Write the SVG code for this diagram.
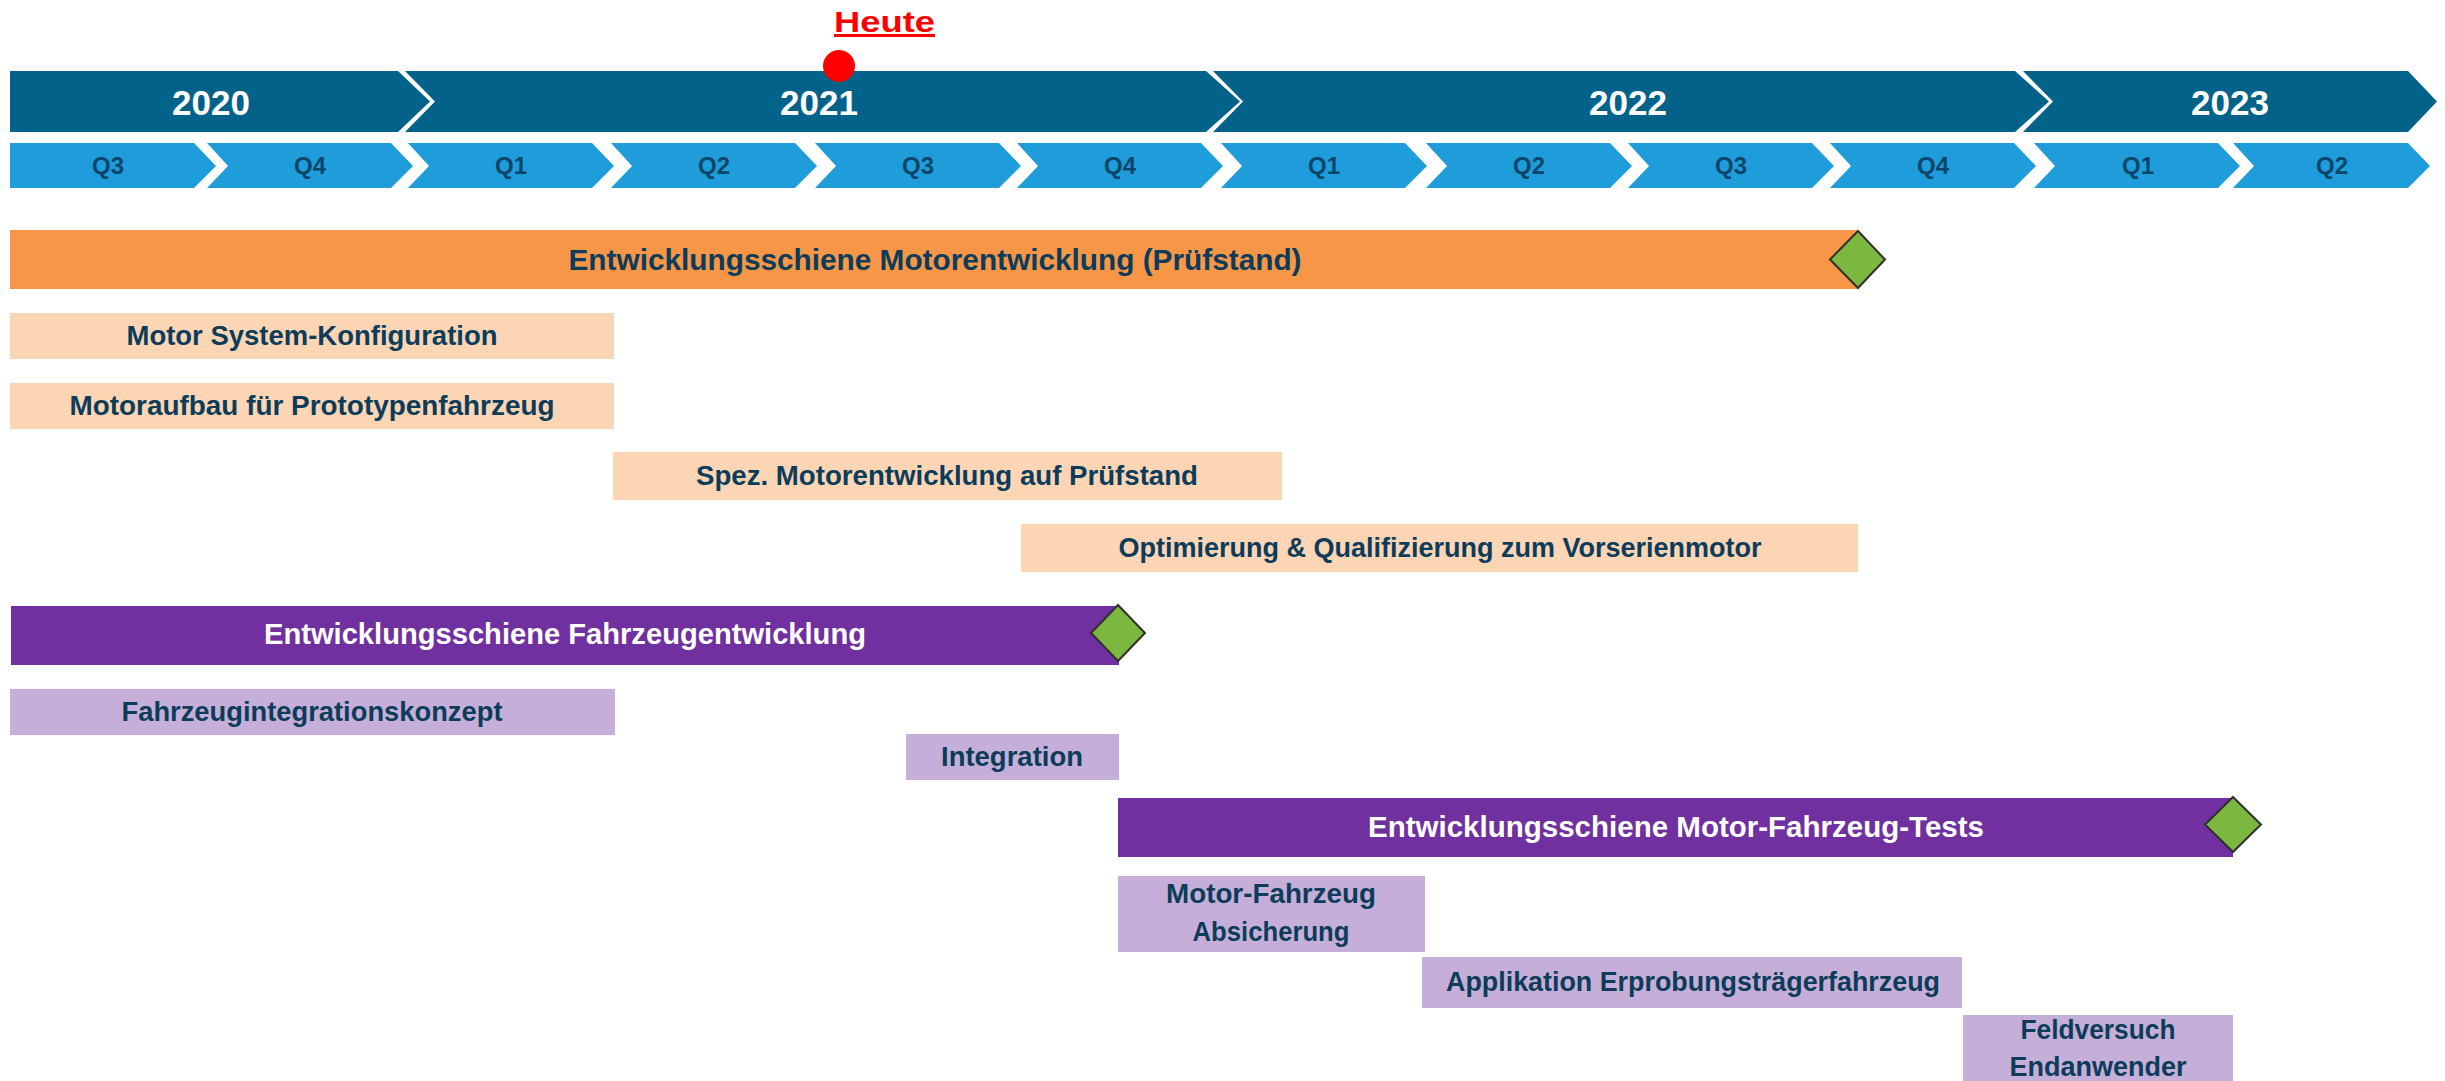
<svg xmlns="http://www.w3.org/2000/svg" width="2445" height="1081" viewBox="0 0 2445 1081">
<style>
text{font-family:"Liberation Sans",Arial,sans-serif;font-weight:bold;text-anchor:middle}
.yr{fill:#02628a}
.q{fill:#1f9ddb}
.yt{fill:#ffffff;font-size:35px}
.qt{fill:#0a466a;font-size:24px}
.dk{fill:#0c3c5a}
.hd{font-size:30px}
.st{font-size:27px}
.org{fill:#f79646}
.lorg{fill:#fcd5b5}
.pur{fill:#7030a0}
.lpur{fill:#c5afd9}
.ms{fill:#7cb73f;stroke:#2f2f2f;stroke-width:2}
.wt{fill:#ffffff}
</style>
<rect width="2445" height="1081" fill="#ffffff"/>
<g id="timeline-years">
<polygon class="yr" points="10,71 398,71 430,101.5 398,132 10,132"/>
<polygon class="yr" points="405,71 1206,71 1240,101.5 1206,132 405,132 435,101.5"/>
<polygon class="yr" points="1213,71 2015,71 2049,101.5 2015,132 1213,132 1243,101.5"/>
<polygon class="yr" points="2023,71 2408,71 2437,101.5 2408,132 2023,132 2053,101.5"/>
<text class="yt" x="211" y="115">2020</text>
<text class="yt" x="819" y="115">2021</text>
<text class="yt" x="1628" y="115">2022</text>
<text class="yt" x="2230" y="115">2023</text>
</g>
<g id="timeline-quarters">
<polygon class="q" points="10,143 194,143 216,166 194,188 10,188"/>
<polygon class="q" points="207,143 391,143 413,166 391,188 207,188 228,166"/>
<polygon class="q" points="408,143 592,143 614,166 592,188 408,188 429,166"/>
<polygon class="q" points="611,143 795,143 817,166 795,188 611,188 632,166"/>
<polygon class="q" points="815,143 999,143 1021,166 999,188 815,188 836,166"/>
<polygon class="q" points="1017,143 1201,143 1223,166 1201,188 1017,188 1038,166"/>
<polygon class="q" points="1221,143 1405,143 1427,166 1405,188 1221,188 1242,166"/>
<polygon class="q" points="1426,143 1610,143 1632,166 1610,188 1426,188 1447,166"/>
<polygon class="q" points="1628,143 1812,143 1834,166 1812,188 1628,188 1649,166"/>
<polygon class="q" points="1830,143 2014,143 2036,166 2014,188 1830,188 1851,166"/>
<polygon class="q" points="2034,143 2218,143 2240,166 2218,188 2034,188 2055,166"/>
<polygon class="q" points="2233,143 2408,143 2430,166 2408,188 2233,188 2254,166"/>
<text class="qt" x="108" y="174">Q3</text>
<text class="qt" x="310" y="174">Q4</text>
<text class="qt" x="511" y="174">Q1</text>
<text class="qt" x="714" y="174">Q2</text>
<text class="qt" x="918" y="174">Q3</text>
<text class="qt" x="1120" y="174">Q4</text>
<text class="qt" x="1324" y="174">Q1</text>
<text class="qt" x="1529" y="174">Q2</text>
<text class="qt" x="1731" y="174">Q3</text>
<text class="qt" x="1933" y="174">Q4</text>
<text class="qt" x="2138" y="174">Q1</text>
<text class="qt" x="2332" y="174">Q2</text>
</g>
<g id="heute">
<circle cx="839" cy="66" r="16" fill="#ff0000"/>
<text x="884.5" y="32" font-size="30" fill="#ff0000" text-decoration="underline" textLength="101" lengthAdjust="spacingAndGlyphs">Heute</text>
</g>
<g id="rail-motor">
<rect class="org" x="10" y="230" width="1848" height="59"/>
<text class="dk hd" x="935" y="270" textLength="733" lengthAdjust="spacingAndGlyphs">Entwicklungsschiene Motorentwicklung (Prüfstand)</text>
</g>
<g id="milestone-motor">
<polygon class="ms" points="1858,231 1885,259.5 1858,288 1830,259.5"/>
</g>
<g id="task-motor-system">
<rect class="lorg" x="10" y="313" width="604" height="46"/>
<text class="dk st" x="312" y="345" textLength="371" lengthAdjust="spacingAndGlyphs">Motor System-Konfiguration</text>
</g>
<g id="task-motoraufbau">
<rect class="lorg" x="10" y="383" width="604" height="46"/>
<text class="dk st" x="312" y="415" textLength="485" lengthAdjust="spacingAndGlyphs">Motoraufbau für Prototypenfahrzeug</text>
</g>
<g id="task-spez">
<rect class="lorg" x="613" y="452" width="669" height="48"/>
<text class="dk st" x="947" y="485" textLength="502" lengthAdjust="spacingAndGlyphs">Spez. Motorentwicklung auf Prüfstand</text>
</g>
<g id="task-optimierung">
<rect class="lorg" x="1021" y="524" width="837" height="48"/>
<text class="dk st" x="1440" y="557" textLength="643" lengthAdjust="spacingAndGlyphs">Optimierung &amp; Qualifizierung zum Vorserienmotor</text>
</g>
<g id="rail-fahrzeug">
<rect class="pur" x="11" y="606" width="1108" height="59"/>
<text class="wt hd" x="565" y="644" textLength="602" lengthAdjust="spacingAndGlyphs">Entwicklungsschiene Fahrzeugentwicklung</text>
</g>
<g id="milestone-fahrzeug">
<polygon class="ms" points="1118,605 1145,633 1118,661 1091,633"/>
</g>
<g id="task-fahrzeugintegrationskonzept">
<rect class="lpur" x="10" y="689" width="605" height="46"/>
<text class="dk st" x="312" y="721" textLength="381" lengthAdjust="spacingAndGlyphs">Fahrzeugintegrationskonzept</text>
</g>
<g id="task-integration">
<rect class="lpur" x="906" y="734" width="213" height="46"/>
<text class="dk st" x="1012" y="766" textLength="142" lengthAdjust="spacingAndGlyphs">Integration</text>
</g>
<g id="rail-tests">
<rect class="pur" x="1118" y="798" width="1115" height="59"/>
<text class="wt hd" x="1676" y="837" textLength="616" lengthAdjust="spacingAndGlyphs">Entwicklungsschiene Motor-Fahrzeug-Tests</text>
</g>
<g id="milestone-tests">
<polygon class="ms" points="2233,797 2261,824.5 2233,852 2205,824.5"/>
</g>
<g id="task-absicherung">
<rect class="lpur" x="1118" y="876" width="307" height="76"/>
<text class="dk st" x="1271" y="903" textLength="210" lengthAdjust="spacingAndGlyphs">Motor-Fahrzeug</text>
<text class="dk st" x="1271" y="941" textLength="157" lengthAdjust="spacingAndGlyphs">Absicherung</text>
</g>
<g id="task-applikation">
<rect class="lpur" x="1422" y="957" width="540" height="51"/>
<text class="dk st" x="1693" y="991" textLength="494" lengthAdjust="spacingAndGlyphs">Applikation Erprobungsträgerfahrzeug</text>
</g>
<g id="task-feldversuch">
<rect class="lpur" x="1963" y="1015" width="270" height="66"/>
<text class="dk st" x="2098" y="1039" textLength="155" lengthAdjust="spacingAndGlyphs">Feldversuch</text>
<text class="dk st" x="2098" y="1076" textLength="177" lengthAdjust="spacingAndGlyphs">Endanwender</text>
</g>
<g id="connectors"/>
</svg>
